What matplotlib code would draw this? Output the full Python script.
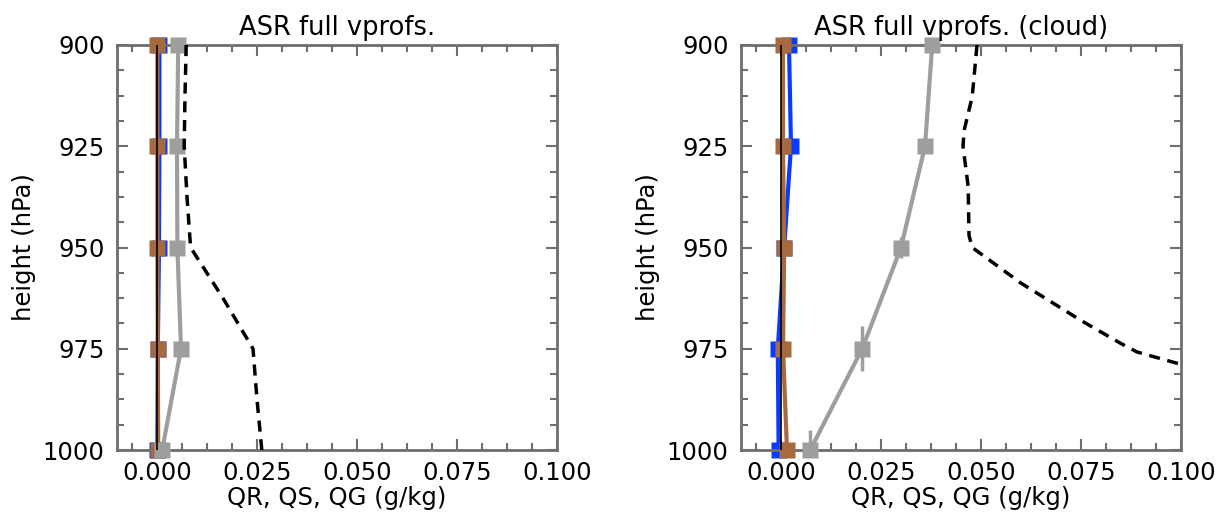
import matplotlib
matplotlib.use("Agg")
import matplotlib.pyplot as plt
from matplotlib.ticker import MultipleLocator

plt.rcParams['font.family'] = ['DejaVu Sans']

levels = [900, 925, 950, 975, 1000]
yticks = [900, 925, 950, 975, 1000]
xticks = [0.0, 0.025, 0.05, 0.075, 0.1]
xticklabels = ["0.000", "0.025", "0.050", "0.075", "0.100"]

titles = ["ASR full vprofs.", "ASR full vprofs. (cloud)"]

# left panel (all)
qr_all = [0.0006, 0.0006, 0.0005, 0.0002, 0.0001]      # blue
qs_all = [0.0053, 0.0050, 0.0051, 0.0060, 0.0013]      # gray
qg_all = [0.0001, 0.0001, 0.0001, 0.0002, 0.0003]      # brown
ref_lev_all = [900, 912.5, 925, 937.5, 950, 962.5, 975, 987.5, 1000]
ref_all = [0.0073, 0.0070, 0.0068, 0.0075, 0.0084, 0.0165, 0.0240, 0.0250, 0.0262]

# right panel (cloud)
qr_cld = [0.0020, 0.0025, 0.0008, -0.0008, -0.0006]
qs_cld = [0.0378, 0.0360, 0.0300, 0.0203, 0.0073]
qs_cld_err = [0.0, 1.0, 2.5, 5.5, 5.0]
qg_cld = [0.0005, 0.0005, 0.0008, 0.0005, 0.0015]
ref_lev_cld = [900, 912.8, 921, 925, 935, 947, 950, 958.8, 967.9, 973.6, 975.8, 979, 990]
ref_cld = [0.0490, 0.0478, 0.0458, 0.0455, 0.0468, 0.0470, 0.0478, 0.0600, 0.0748,
           0.0848, 0.0890, 0.1005, 0.1400]

BLUE = "#0a3cff"
GRAY = "#9e9e9e"
BROWN = "#a66a3e"
FRAME = "#6e6e6e"

fig = plt.figure(figsize=(12.29, 5.14), dpi=100)
ax1 = fig.add_axes([117/1229, 1-450/514, 440/1229, 405/514])
ax2 = fig.add_axes([741/1229, 1-450/514, 440/1229, 405/514])

panels = [
    (ax1, qr_all, qs_all, None, qg_all, ref_lev_all, ref_all),
    (ax2, qr_cld, qs_cld, qs_cld_err, qg_cld, ref_lev_cld, ref_cld),
]

for i, (ax, qr, qs, qserr, qg, rl, rv) in enumerate(panels):
    ax.plot(qr, levels, color=BLUE, lw=3, marker='s', ms=11, mec='none', zorder=2, clip_on=False)
    ax.plot(qg, levels, color=BROWN, lw=3, marker='s', ms=11, mec='none', zorder=3, clip_on=False)
    ax.plot(qs, levels, color=GRAY, lw=3, marker='s', ms=11, mec='none', zorder=3, clip_on=False)
    if qserr is not None:
        ax.errorbar(qs, levels, yerr=qserr, fmt='none', ecolor=GRAY, elinewidth=2.5,
                    capsize=0, zorder=3)
    ax.axvline(0.0, color='black', lw=1.2, zorder=4)
    ax.plot(rv, rl, color='black', lw=2.5, ls=(0, (3.2, 2.2)), zorder=5)

    ax.set_xlim(-0.01, 0.1)
    ax.set_ylim(1000, 900)
    ax.set_yticks(yticks)
    ax.set_xticks(xticks)
    ax.set_xticklabels(xticklabels)
    ax.xaxis.set_minor_locator(MultipleLocator(0.00625))
    ax.yaxis.set_minor_locator(MultipleLocator(6.25))
    ax.tick_params(which='both', direction='in', top=True, right=True,
                   color=FRAME, width=1.5, labelsize=17.5)
    ax.tick_params(which='major', length=8)
    ax.tick_params(axis='x', which='major', pad=8)
    ax.tick_params(axis='y', which='major', pad=9)
    ax.tick_params(which='minor', length=5)
    for s in ax.spines.values():
        s.set_color(FRAME)
        s.set_linewidth(2)
    ax.set_title(titles[i], fontsize=18.5, pad=7)
    ax.set_xlabel("QR, QS, QG (g/kg)", fontsize=17.5, labelpad=1)
    ax.set_ylabel("height (hPa)", fontsize=17.5, labelpad=5)

fig.savefig("out.png", dpi=100)
